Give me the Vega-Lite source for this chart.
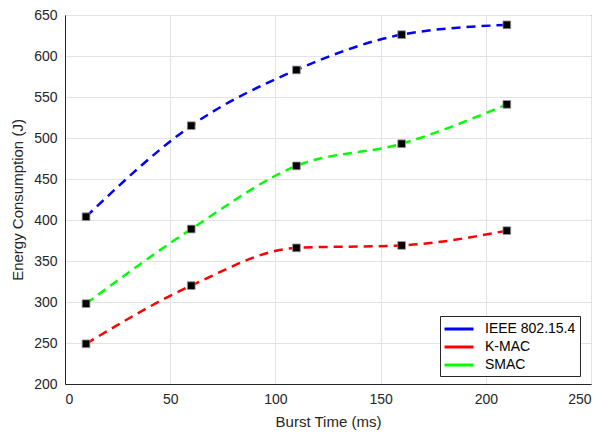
{
  "$schema": "https://vega.github.io/schema/vega-lite/v6.json",
  "width": 526,
  "height": 369,
  "autosize": {"type": "none"},
  "padding": {"left": 65, "top": 15, "right": 18, "bottom": 48},
  "background": "white",
  "config": {
    "font": "Liberation Sans",
    "view": {"stroke": "#262626", "strokeWidth": 1},
    "axis": {
      "labelFont": "Liberation Sans",
      "titleFont": "Liberation Sans",
      "labelFontSize": 14,
      "titleFontSize": 15,
      "titleFontWeight": "normal",
      "labelColor": "#262626",
      "titleColor": "#262626",
      "domainColor": "#262626",
      "tickColor": "#262626",
      "gridColor": "#e3e3e3",
      "gridWidth": 1
    }
  },
  "data": {
    "values": [
      {"t": 10, "e": 404, "s": "IEEE 802.15.4"},
      {"t": 60, "e": 515, "s": "IEEE 802.15.4"},
      {"t": 110, "e": 583, "s": "IEEE 802.15.4"},
      {"t": 160, "e": 626, "s": "IEEE 802.15.4"},
      {"t": 210, "e": 638, "s": "IEEE 802.15.4"},
      {"t": 10, "e": 249, "s": "K-MAC"},
      {"t": 60, "e": 320, "s": "K-MAC"},
      {"t": 110, "e": 366, "s": "K-MAC"},
      {"t": 160, "e": 369, "s": "K-MAC"},
      {"t": 210, "e": 387, "s": "K-MAC"},
      {"t": 10, "e": 298, "s": "SMAC"},
      {"t": 60, "e": 389, "s": "SMAC"},
      {"t": 110, "e": 466, "s": "SMAC"},
      {"t": 160, "e": 493, "s": "SMAC"},
      {"t": 210, "e": 541, "s": "SMAC"}
    ]
  },
  "encoding": {
    "x": {
      "field": "t", "type": "quantitative",
      "scale": {"domain": [0, 250], "nice": false},
      "axis": {"title": "Burst Time (ms)", "values": [0, 50, 100, 150, 200, 250], "ticks": false, "labelPadding": 8, "titlePadding": 8}
    },
    "y": {
      "field": "e", "type": "quantitative",
      "scale": {"domain": [200, 650], "nice": false, "zero": false},
      "axis": {"title": "Energy Consumption (J)", "values": [200, 250, 300, 350, 400, 450, 500, 550, 600, 650], "ticks": false, "labelPadding": 8, "titlePadding": 8}
    }
  },
  "layer": [
    {
      "mark": {"type": "line", "interpolate": "monotone", "strokeWidth": 2.5, "strokeDash": [9, 6]},
      "encoding": {
        "color": {
          "field": "s", "type": "nominal",
          "scale": {"domain": ["IEEE 802.15.4", "K-MAC", "SMAC"], "range": ["#0000ff", "#ff0000", "#00ff00"]},
          "legend": {
            "title": null,
            "orient": "none",
            "legendX": 375,
            "legendY": 301,
            "symbolType": "M-2.05,0H2.05",
            "symbolStrokeWidth": 3,
            "symbolSize": 200,
            "symbolOffset": 6,
            "labelFontSize": 14,
            "labelFont": "Liberation Sans",
            "labelColor": "#000000",
            "labelOffset": 17,
            "strokeColor": "#262626",
            "fillColor": "white",
            "padding": 4,
            "rowPadding": 2
          }
        }
      }
    },
    {
      "mark": {"type": "point", "shape": "square", "filled": true, "color": "black", "size": 60, "opacity": 1, "stroke": "#9a9a9a", "strokeWidth": 0.8},
      "encoding": {"detail": {"field": "s"}}
    }
  ]
}
